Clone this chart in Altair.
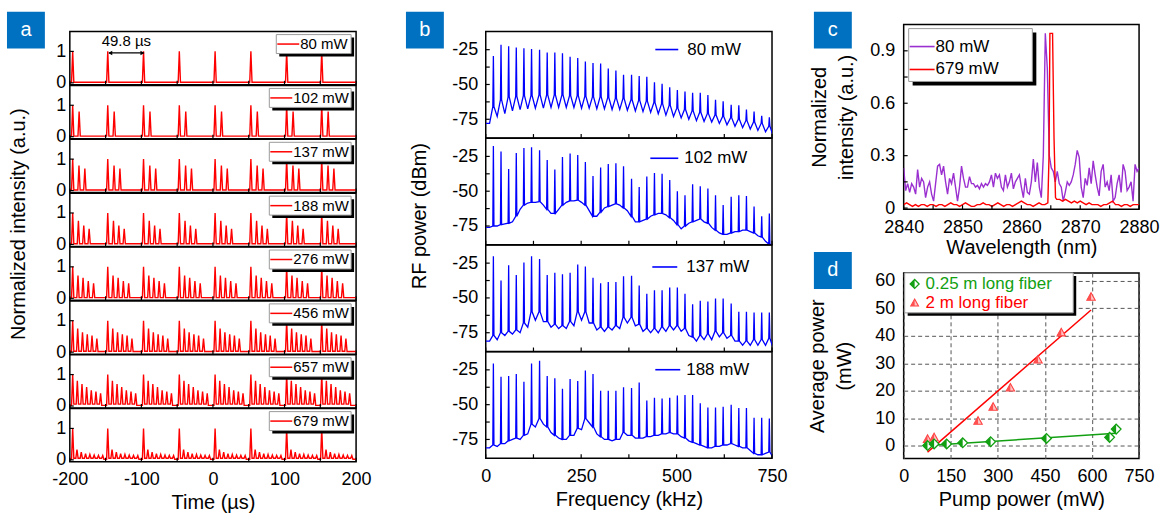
import altair as alt
import pandas as pd

FONT = "Liberation Sans"
RED = "#ff0000"
BLUE = "#0000ff"
PURPLE = "#9b30d0"
GREEN = "#12a012"
LABEL_BLUE = "#0070c0"
LBL = "'' + datum.value"

# ---------------- panel a : pulse trains ----------------
a_labels = ["80 mW", "102 mW", "137 mW", "188 mW", "276 mW", "456 mW", "657 mW", "679 mW"]
a_group_starts = [-196, -147, -97, -47, 3, 53, 103, 152]
a_offsets = [
    [0],
    [0, 9],
    [0, 8.8, 17],
    [0, 8, 15.5, 23],
    [0, 7.4, 14.5, 21.8, 29.2],
    [0, 7, 13.7, 20.4, 27, 33.8],
    [0, 6.5, 13, 19.5, 26, 32.5, 39],
    [0, 6, 12, 18, 24, 30, 36, 42],
]
a_heights = [
    [1.0],
    [1.0, 0.8],
    [1.0, 0.8, 0.7],
    [1.0, 0.75, 0.6, 0.5],
    [1.0, 0.72, 0.65, 0.55, 0.48],
    [1.0, 0.75, 0.63, 0.57, 0.53, 0.43],
    [1.0, 0.8, 0.7, 0.6, 0.5, 0.46, 0.4],
    [1.0, 0.33, 0.25, 0.2, 0.17, 0.15, 0.14, 0.14],
]
a_troughs = [0.02, 0.02, 0.02, 0.02, 0.02, 0.03, 0.06, 0.05]
a_baseline = 0.02
a_halfwidth = 1.6
a_xlabels = [-200, -100, 0, 100, 200]
a_xticks = [-200, -150, -100, -50, 0, 50, 100, 150, 200]
a_ylabels = [0, 1]

# ---------------- panel b : RF spectra ----------------
b_labels = ["80 mW", "102 mW", "137 mW", "188 mW"]
b_freqs = [20, 40, 60, 80, 100, 120, 141, 161, 181, 201, 221, 241, 261, 281, 301, 321, 341, 361, 382,
           402, 422, 442, 462, 482, 502, 522, 542, 562, 582, 602, 622, 643, 663, 683, 703, 723, 743]
b_start = [-78, -76, -81, -81]
b_peaks = [
    [-29.5, -21.5, -22.5, -23.5, -24, -24.5, -25, -27, -27, -27.5, -30, -31, -33.5, -34.5, -35, -38.5, -40,
     -43, -43, -44, -44.5, -48.5, -49.5, -52, -54, -55, -56, -56, -57.5, -61, -62, -64.5, -65, -68, -69.5, -72.5, -73.5],
    [-17.5, -21.5, -34, -22.5, -19, -18.5, -20.5, -27.5, -34.5, -25.5, -23, -24, -29, -39, -33, -30.5, -30,
     -32, -41, -47, -39.5, -37, -37.5, -42, -50, -53, -45, -46.5, -48, -53, -60, -54, -53, -53.5, -61, -68, -66],
    [-20, -37.5, -26.5, -33.5, -24.5, -20, -22, -33.5, -32, -33, -32, -26, -27.5, -35.5, -39.5, -38.5, -38.5,
     -34.5, -34, -41, -47, -44.5, -44.5, -42.5, -42.5, -47, -54.5, -52, -52.5, -50.5, -50.5, -54, -60, -60, -60.5, -60.5, -60.5],
    [-20.5, -30, -29.5, -28, -33.5, -20.5, -18.5, -29.5, -31, -38.5, -31.5, -33, -25.5, -28, -40, -40, -40,
     -37.5, -38, -34, -47, -45, -45.5, -45, -43.5, -43, -43, -49, -52, -52, -51.5, -50, -52.5, -52.5, -59.5, -59.5, -60],
]
b_feet = [
    [-66, -61, -59, -58.5, -58, -58, -57.5, -57.5, -57.5, -57.5, -58, -58, -58.5, -59, -59, -59.5, -60, -60,
     -61, -61.5, -62, -63, -64, -65, -67, -68, -69, -70, -71, -72, -73, -74, -75, -76, -77, -78, -80],
    [-75, -74, -73, -68, -60, -58, -57.5, -63, -66, -60, -57, -56.5, -60, -68, -65, -61, -59, -62, -68, -72,
     -70, -67, -66, -69, -74, -75, -72, -70, -73, -78, -81, -80, -79, -78, -80, -83, -88],
    [-77, -75, -74, -73, -68, -60, -60, -67, -69, -70, -67, -60, -60, -68, -71, -71, -70, -64, -64, -69, -72,
     -72, -71, -70, -70, -72, -78, -77, -76, -74, -75, -77, -81, -81, -80, -80, -79],
    [-79, -78, -76, -74, -72, -64, -60, -66, -72, -75, -72, -67, -60, -66, -73, -75, -75, -70, -72, -74, -73,
     -72, -71, -70, -71, -74, -77, -79, -81, -80, -79, -78, -80, -81, -85, -86, -84],
]
b_troughs = [
    [-73, -71, -69, -68, -67.5, -67, -67, -66.5, -66.5, -66.5, -66.5, -67, -67, -67.5, -67.5, -68, -68, -68.5,
     -69, -69.5, -70, -71, -72, -73, -74, -75, -76, -76.5, -77, -78, -79, -80, -81, -82, -83, -84, -87],
    [-75, -73.5, -72, -63, -58.5, -58, -60, -66, -63, -58, -57, -58, -64, -68, -62, -60, -60, -64, -72, -71,
     -68, -66, -67, -71, -77, -73, -71, -72, -76, -80, -81, -79, -78, -79, -82, -86, -89],
    [-80, -77, -76, -75, -71, -66, -67, -71, -72, -72, -70, -66, -68, -73, -74, -73, -72, -68, -70, -74, -75,
     -75, -74, -73, -74, -77, -81, -80, -80, -78, -79, -81, -84, -84, -84, -84, -86],
    [-80, -78, -75, -75, -71, -66, -64, -70, -74, -75, -72, -68, -63, -71, -75, -76, -75, -72, -74, -74, -73,
     -72, -71, -71, -73, -76, -78, -80, -81, -80, -79, -79, -81, -83, -86, -85, -88],
]
b_xlabels = [0, 250, 500, 750]
b_xticks = [0, 125, 250, 375, 500, 625, 750]
b_ylabels = [-75, -50, -25]
b_yticks = [-75, -62.5, -50, -37.5, -25]

# ---------------- panel c : optical spectra ----------------
c_purple = [0.23, 0.10, 0.14, 0.09, 0.14, 0.12, 0.08, 0.22, 0.12, 0.17,
            0.15, 0.06, 0.12, 0.15, 0.08, 0.04, 0.14, 0.24, 0.25, 0.19,
            0.24, 0.15, 0.08, 0.17, 0.14, 0.20, 0.12, 0.04, 0.12, 0.24,
            0.17, 0.12, 0.12, 0.18, 0.14, 0.14, 0.12, 0.13, 0.11, 0.14,
            0.12, 0.14, 0.13, 0.15, 0.19, 0.12, 0.20, 0.17, 0.19, 0.12,
            0.10, 0.19, 0.12, 0.15, 0.20, 0.11, 0.15, 0.17, 0.19, 0.12,
            0.06, 0.17, 0.09, 0.08, 0.15, 0.28, 0.15, 0.26, 0.12, 0.06,
            0.30, 1.00, 0.80, 0.30, 0.23, 0.21, 0.15, 0.21, 0.14, 0.12,
            0.04, 0.09, 0.15, 0.13, 0.15, 0.19, 0.25, 0.33, 0.29, 0.12,
            0.06, 0.17, 0.13, 0.23, 0.14, 0.27, 0.19, 0.12, 0.07, 0.21,
            0.25, 0.12, 0.15, 0.10, 0.19, 0.04, 0.06, 0.14, 0.19, 0.09,
            0.25, 0.21, 0.10, 0.12, 0.15, 0.04, 0.25, 0.21, 0.23]
c_wl_start, c_wl_end = 2840, 2880
c_red_wl = ([2840 + 0.5 * i for i in range(50)] + [2864.7, 2864.85, 2865.3, 2865.55, 2865.8]
            + [2866 + 0.5 * i for i in range(29)])
c_red = [0.02, 0.03, 0.02, 0.01, 0.02, 0.01, 0.02, 0.02, 0.01, 0.02,
         0.02, 0.01, 0.02, 0.02, 0.01, 0.02, 0.03, 0.02, 0.02, 0.01,
         0.02, 0.03, 0.02, 0.01, 0.01, 0.02, 0.02, 0.03, 0.02, 0.02,
         0.01, 0.02, 0.03, 0.02, 0.01, 0.02, 0.02, 0.01, 0.02, 0.03,
         0.04, 0.03, 0.02, 0.02, 0.01, 0.02, 0.03, 0.02, 0.02, 0.03,
         0.30, 1.00, 1.00, 0.40, 0.06,
         0.05, 0.05, 0.04, 0.05, 0.04, 0.03, 0.04, 0.03, 0.04, 0.03,
         0.02, 0.03, 0.02, 0.02, 0.02, 0.01, 0.02, 0.02, 0.03, 0.04,
         0.02, 0.02, 0.01, 0.02, 0.02, 0.01, 0.02, 0.02, 0.02]
c_labels = ["80 mW", "679 mW"]

# ---------------- panel d : output power ----------------
d_green_pump = [76, 97, 137, 188, 277, 455, 656, 677]
d_green_power = [0.0, 0.6, 0.6, 1.0, 1.4, 2.6, 3.0, 6.0]
d_red_pump = [76, 97, 237, 285, 340, 428, 502, 597]
d_red_power = [2.4, 3.0, 9.0, 14.1, 21.1, 31.3, 41.2, 54.2]
d_green_fit_pump = [76, 677]
d_green_fit_power = [0.0, 4.5]
d_red_fit_pump = [76, 597]
d_red_fit_power = [-2.4, 49.4]
d_labels = ["0.25 m long fiber", "2 m long fiber"]

# ---------------- sizes ----------------
W_A, H_A = 287, 53.375
W_B, H_B = 287, 106.75
W_C, H_C, H_D = 236, 185, 186
XLP = 9  # x-axis label padding

HALF_DIAMOND = "M0,-1L-1,0L0,1Z"
TRI = "M0,-1L1,0.8L-1,0.8Z"
HALF_TRI = "M0,-1L-1,0.8L0,0.8Z"


def one():
    return pd.DataFrame({"k": [0]})


def box(x1, x2, y1, y2, fill, stroke=None, sw=0, opacity=1):
    kw = dict(fill=fill, opacity=opacity)
    if stroke:
        kw.update(stroke=stroke, strokeWidth=sw)
    return alt.Chart(one()).mark_rect(**kw).encode(
        x=alt.value(x1), x2=alt.value(x2), y=alt.value(y1), y2=alt.value(y2))


def text(x, y, s, size, color="black", align="left", angle=0):
    kw = dict(align=align, baseline="middle", fontSize=size, font=FONT, color=color)
    if angle:
        kw["angle"] = angle
    return alt.Chart(one()).mark_text(**kw).encode(x=alt.value(x), y=alt.value(y), text=alt.value(s))


def hline(x1, x2, y, color, w=1.5):
    return alt.Chart(one()).mark_rule(color=color, strokeWidth=w).encode(
        x=alt.value(x1), x2=alt.value(x2), y=alt.value(y))


def pt(x, y, shape, size, color, sw=1.2, fill=None):
    kw = dict(shape=shape, size=size, filled=True, opacity=1, strokeWidth=sw)
    if fill:
        kw.update(fill=fill, stroke=color)
    else:
        kw.update(color=color)
    return alt.Chart(one()).mark_point(**kw).encode(x=alt.value(x), y=alt.value(y))


def panel_label(letter, x1, y1):
    return [box(x1, x1 + 38, y1, y1 + 37, LABEL_BLUE),
            text(x1 + 19, y1 + 18, letter, 20, color="white", align="center")]


def shadow_box(x1, x2, y1, y2, off=3):
    return [box(x1 + off, x2 + off, y1 + off, y2 + off, "black"),
            box(x1, x2, y1, y2, "white", "#9a9a9a", 1)]


def xticks(values, X, H, L=4):
    return alt.Chart(pd.DataFrame({"x": values})).mark_rule(color="black", strokeWidth=1.2).encode(
        x=X, y=alt.value(H), y2=alt.value(H - L))


def yticks(values, Y, L=4):
    return alt.Chart(pd.DataFrame({"y": values})).mark_rule(color="black", strokeWidth=1.2).encode(
        y=Y, x=alt.value(0), x2=alt.value(L))


def pulse_frame(offsets, heights, trough):
    xs, ys = [-200.0], [a_baseline]
    n = len(offsets)
    for g in a_group_starts:
        for j, (o, h) in enumerate(zip(offsets, heights)):
            t = g + o
            xs += [t - a_halfwidth, t, t + a_halfwidth]
            ys += [a_baseline if j == 0 else trough, h, trough if j < n - 1 else a_baseline]
    xs.append(200.0)
    ys.append(a_baseline)
    return pd.DataFrame({"x": xs, "y": ys, "o": range(len(xs))})


def spectrum_frame(start, peaks, feet, troughs):
    xs, ys = [0.0, 10.0], [start, start]
    for f, p, ft, tr in zip(b_freqs, peaks, feet, troughs):
        xs += [f - 1.5, f, f + 1.5, f + 10]
        ys += [ft, p, ft, tr]
    return pd.DataFrame({"x": xs, "y": ys, "o": range(len(xs))})


# ---------------- build panel a ----------------
A_XS = alt.Scale(domain=[-200, 200], nice=False, zero=False)
A_YS = alt.Scale(domain=[-0.063, 1.63], nice=False, zero=False)


def a_sub(i):
    df = pulse_frame(a_offsets[i], a_heights[i], a_troughs[i])
    if i == len(a_labels) - 1:
        xaxis = alt.Axis(values=a_xlabels, title="Time (µs)", labelExpr=LBL, labelPadding=XLP, titlePadding=4)
    else:
        xaxis = alt.Axis(values=a_xlabels, labels=False, title=None)
    yaxis = alt.Axis(values=a_ylabels, title=None, labelExpr=LBL, labelPadding=4)
    X = alt.X("x:Q", scale=A_XS, axis=xaxis)
    Y = alt.Y("y:Q", scale=A_YS, axis=yaxis)
    layers = [alt.Chart(df).mark_line(color=RED, strokeWidth=1.4, clip=True).encode(x=X, y=Y, order="o:Q")]
    layers.append(xticks(a_xticks, X, H_A))
    layers.append(yticks(a_ylabels, Y))
    bx1 = 207 if i == 0 else 200
    layers += shadow_box(bx1, 282, 3, 22)
    layers.append(hline(bx1 + 1, bx1 + 23, 12.5, RED, 1.5))
    layers.append(text(bx1 + 24, 12.5, a_labels[i], 15))
    if i == 0:
        ann = pd.DataFrame({"x": [-121], "y": [1.33], "t": ["49.8 µs"]})
        layers.append(alt.Chart(ann).mark_text(fontSize=15, font=FONT, color="black").encode(
            x=X, y=Y, text="t:N"))
        arr = pd.DataFrame({"x": [-145], "x2": [-97], "y": [0.95]})
        layers.append(alt.Chart(arr).mark_rule(color="black", strokeWidth=1.2).encode(
            x=X, x2="x2:Q", y=Y))
        heads = pd.DataFrame({"x": [-143.5, -98.5], "y": [0.95, 0.95], "s": ["triangle-left", "triangle-right"]})
        layers.append(alt.Chart(heads).mark_point(filled=True, color="black", size=22, opacity=1).encode(
            x=X, y=Y,
            shape=alt.Shape("s:N", scale=alt.Scale(domain=["triangle-left", "triangle-right"],
                                                   range=["triangle-left", "triangle-right"]), legend=None)))
        # invisible extent marker to the right of panel a (layout spacing)
        layers.append(box(W_A + 34, W_A + 35, 0, 1, "white", opacity=0))
    return alt.layer(*layers).properties(width=W_A, height=H_A)


spacerA = alt.layer(
    *panel_label("a", -63, -13),
    text(-50.5, 200, "Normalized intensity (a.u.)", 20, align="center", angle=270),
).properties(width=W_A, height=7, view=alt.ViewBackground(strokeOpacity=0))

colA = alt.vconcat(spacerA, *[a_sub(i) for i in range(len(a_labels))], spacing=0, bounds="flush")

# ---------------- build panel b ----------------
B_XS = alt.Scale(domain=[0, 750], nice=False, zero=False)
B_YS = alt.Scale(domain=[-88.5, -12], nice=False, zero=False)
b_leg_x1 = [170, 165, 167, 170]
b_leg_x2 = [193, 193, 192, 195]
b_leg_tx = [202, 199, 201, 201]
b_leg_y = [18, 20, 22, 18]


def b_sub(i):
    df = spectrum_frame(b_start[i], b_peaks[i], b_feet[i], b_troughs[i])
    if i == 3:
        xaxis = alt.Axis(values=b_xlabels, title="Frequency (kHz)", labelExpr=LBL, labelPadding=XLP, titlePadding=4)
    else:
        xaxis = alt.Axis(values=b_xlabels, labels=False, title=None)
    yaxis = alt.Axis(values=b_ylabels, title=None, labelExpr=LBL, labelPadding=8)
    X = alt.X("x:Q", scale=B_XS, axis=xaxis)
    Y = alt.Y("y:Q", scale=B_YS, axis=yaxis)
    layers = [alt.Chart(df).mark_line(color=BLUE, strokeWidth=1.3, clip=True).encode(x=X, y=Y, order="o:Q")]
    layers.append(xticks(b_xticks, X, H_B))
    layers.append(yticks(b_yticks, Y))
    layers.append(hline(b_leg_x1[i], b_leg_x2[i], b_leg_y[i], BLUE, 1.6))
    layers.append(text(b_leg_tx[i], b_leg_y[i], b_labels[i], 17))
    if i == 0:
        layers.append(box(W_B + 19, W_B + 20, 0, 1, "white", opacity=0))
    return alt.layer(*layers).properties(width=W_B, height=H_B)


spacerB = alt.layer(
    *panel_label("b", -80, -13),
    text(-66, 192, "RF power (dBm)", 20, align="center", angle=270),
).properties(width=W_B, height=7, view=alt.ViewBackground(strokeOpacity=0))

colB = alt.vconcat(spacerB, *[b_sub(i) for i in range(4)], spacing=0, bounds="flush")

# ---------------- build panel c ----------------
C_XS = alt.Scale(domain=[2840, 2880], nice=False, zero=False)
C_YS = alt.Scale(domain=[-0.006, 1.05], nice=False, zero=False)
n_p = len(c_purple)
purple_df = pd.DataFrame({"x": [c_wl_start + (c_wl_end - c_wl_start) * k / (n_p - 1) for k in range(n_p)],
                          "y": c_purple, "o": range(n_p)})
red_df = pd.DataFrame({"x": c_red_wl, "y": c_red, "o": range(len(c_red))})

CX = alt.X("x:Q", scale=C_XS, axis=alt.Axis(values=[2840, 2850, 2860, 2870, 2880], title="Wavelength (nm)",
                                             labelExpr=LBL, labelPadding=XLP, titlePadding=1))
CY = alt.Y("y:Q", scale=C_YS, axis=alt.Axis(values=[0, 0.3, 0.6, 0.9], title=["Normalized", "intensity (a.u.)"],
                                             labelExpr=LBL, labelPadding=9, titlePadding=13, titleLineHeight=27))
c_layers = [
    alt.Chart(purple_df).mark_line(color=PURPLE, strokeWidth=1.4, clip=True).encode(x=CX, y=CY, order="o:Q"),
    alt.Chart(red_df).mark_line(color=RED, strokeWidth=1.4, clip=True).encode(x=CX, y=CY, order="o:Q"),
    xticks([2840, 2845, 2850, 2855, 2860, 2865, 2870, 2875, 2880], CX, H_C),
    yticks([0, 0.15, 0.3, 0.45, 0.6, 0.75, 0.9], CY),
    *shadow_box(5, 129, 4, 57, off=4),
    hline(6, 31, 22, PURPLE, 1.6),
    text(32, 22, c_labels[0], 17),
    hline(6, 31, 45, RED, 1.6),
    text(32, 45, c_labels[1], 17),
    *panel_label("c", -90, -13),
    box(-95, -94, 0, 1, "white", opacity=0),
]
c_chart = alt.layer(*c_layers).properties(width=W_C, height=H_C)

# ---------------- build panel d ----------------
D_XS = alt.Scale(domain=[0, 750], nice=False, zero=False)
D_YS = alt.Scale(domain=[-4.7, 62.9], nice=False, zero=False)
gfit = pd.DataFrame({"x": d_green_fit_pump, "y": d_green_fit_power})
rfit = pd.DataFrame({"x": d_red_fit_pump, "y": d_red_fit_power})
gpts = pd.DataFrame({"x": d_green_pump, "y": d_green_power})
rpts = pd.DataFrame({"x": d_red_pump, "y": d_red_power})

DX = alt.X("x:Q", scale=D_XS, axis=alt.Axis(
    values=[0, 150, 300, 450, 600, 750], title="Pump power (mW)", labelExpr=LBL, labelPadding=XLP,
    titlePadding=4, grid=True, gridDash=[4, 3], gridColor="#555555", gridWidth=1, gridOpacity=1))
DY = alt.Y("y:Q", scale=D_YS, axis=alt.Axis(
    values=[0, 10, 20, 30, 40, 50, 60], title=["Average power", "(mW)"], labelExpr=LBL, labelPadding=9,
    titlePadding=20, titleLineHeight=27, grid=True, gridDash=[4, 3], gridColor="#555555", gridWidth=1,
    gridOpacity=1))

d_layers = [
    alt.Chart(rfit).mark_line(color=RED, strokeWidth=1.5, clip=True).encode(x=DX, y=DY),
    alt.Chart(gfit).mark_line(color=GREEN, strokeWidth=1.5, clip=True).encode(x=DX, y=DY),
    alt.Chart(rpts).mark_point(shape=TRI, size=70, filled=True, fill="#ffc4c4", stroke="#ff4040",
                               strokeWidth=1.1, opacity=1).encode(x=DX, y=DY),
    alt.Chart(rpts).mark_point(shape=HALF_TRI, size=70, filled=True, color="#ff5050", opacity=1).encode(x=DX, y=DY),
    alt.Chart(gpts).mark_point(shape="diamond", size=95, filled=True, fill="white", stroke=GREEN,
                               strokeWidth=1.3, opacity=1).encode(x=DX, y=DY),
    alt.Chart(gpts).mark_point(shape=HALF_DIAMOND, size=95, filled=True, color=GREEN, opacity=1).encode(x=DX, y=DY),
    *shadow_box(1, 170, 0, 40, off=3),
    pt(11, 11, "diamond", 80, GREEN, 1.3, fill="white"),
    pt(11, 11, HALF_DIAMOND, 80, GREEN),
    text(22, 11, d_labels[0], 17, color=GREEN),
    pt(11, 30, TRI, 60, "#ff4040", 1.1, fill="#ffc4c4"),
    pt(11, 30, HALF_TRI, 60, "#ff5050"),
    text(22, 30, d_labels[1], 17, color=RED),
    *panel_label("d", -90, -21),
]
d_chart = alt.layer(*d_layers).properties(width=W_C, height=H_D)

colCD = alt.vconcat(c_chart, d_chart, spacing=64, bounds="flush")

chart = alt.hconcat(colA, colB, colCD, spacing=14).properties(
    padding={"left": 7, "top": 10, "right": 5, "bottom": 5}, background="white"
).configure(font=FONT).configure_axis(
    labelFont=FONT, titleFont=FONT, labelFontSize=18, titleFontSize=20, titleFontWeight="normal",
    labelColor="black", titleColor="black", domain=False, ticks=False, grid=False,
    labelFlush=False, labelOverlap=False
).configure_view(stroke="black", strokeWidth=1.5)

chart.save("out.html", embed_options={"renderer": "svg", "actions": False})
